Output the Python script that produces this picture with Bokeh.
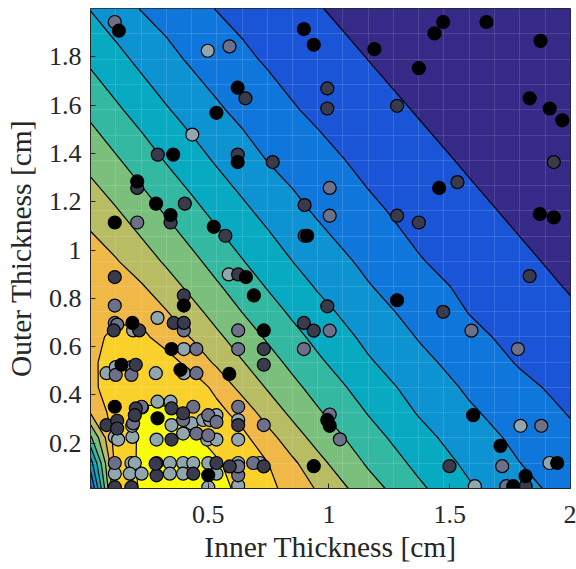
import numpy as np
from bokeh.plotting import figure
from bokeh.models import Range1d, FixedTicker
from bokeh.embed import file_html
from bokeh.resources import INLINE

# grid nodes of the fitted surface (cm)
grid_x = [0.0125, 0.117, 0.222, 0.326, 0.431, 0.535, 0.640, 0.744, 0.849, 0.953, 1.163, 1.372, 1.581, 1.790, 2.0]
grid_y = [0.0125, 0.117, 0.222, 0.326, 0.431, 0.535, 0.640, 0.744, 0.849, 0.953, 1.163, 1.372, 1.581, 1.790, 2.0]
# full sampling grid of the original surface (visible as faint seams)
seam_nodes = [0.0125, 0.117, 0.222, 0.326, 0.431, 0.535, 0.640, 0.744, 0.849, 0.953,
              1.058, 1.163, 1.267, 1.372, 1.476, 1.581, 1.686, 1.790, 1.895]
# surface value (in contour-level units), one row per grid_y value
surface = [
    [1.8, 9.3, 10.1, 10.3, 10.25, 10.2, 9.85, 9.27, 8.63, 7.9, 6.41, 5.18, 4.12, 3.28, 2.65],
    [3.5, 9.4, 10.15, 10.3, 10.2, 10.1, 9.60, 9.04, 8.2, 7.29, 5.87, 4.74, 3.78, 3.01, 2.45],
    [5.8, 9.55, 10.1, 10.2, 10.15, 9.69, 9.26, 8.40, 7.42, 6.68, 5.4, 4.33, 3.46, 2.77, 2.19],
    [8.05, 9.5, 10.2, 10.18, 9.71, 9.31, 8.63, 7.56, 6.80, 6.12, 4.95, 3.93, 3.14, 2.52, 1.94],
    [8.8, 9.45, 9.55, 9.5, 9.55, 8.75, 7.68, 6.93, 6.25, 5.64, 4.53, 3.60, 2.85, 2.23, 1.71],
    [8.85, 9.35, 9.4, 9.35, 8.71, 7.82, 7.06, 6.39, 5.76, 5.17, 4.11, 3.27, 2.55, 1.92, 1.49],
    [8.85, 9.12, 9.2, 8.63, 7.94, 7.19, 6.51, 5.88, 5.29, 4.74, 3.75, 2.94, 2.23, 1.72, 1.30],
    [8.85, 8.88, 8.74, 8.05, 7.32, 6.64, 5.99, 5.41, 4.84, 4.32, 3.41, 2.64, 1.97, 1.54, 1.12],
    [8.8, 8.8, 8.1, 7.42, 6.75, 6.12, 5.52, 4.94, 4.42, 3.91, 3.06, 2.35, 1.79, 1.36, 0.93],
    [8.6, 8.08, 7.47, 6.87, 6.25, 5.64, 5.05, 4.52, 4.0, 3.57, 2.76, 2.06, 1.61, 1.18, 0.75],
    [7.59, 7.08, 6.48, 5.88, 5.28, 4.72, 4.20, 3.72, 3.28, 2.87, 2.18, 1.68, 1.24, 0.81, 0.39],
    [6.71, 6.12, 5.52, 4.93, 4.40, 3.89, 3.43, 2.98, 2.64, 2.30, 1.75, 1.31, 0.87, 0.45, 0.03],
    [5.76, 5.16, 4.61, 4.08, 3.60, 3.13, 2.75, 2.41, 2.07, 1.82, 1.37, 0.93, 0.51, 0.09, -0.33],
    [4.82, 4.29, 3.77, 3.29, 2.86, 2.52, 2.18, 1.90, 1.67, 1.44, 0.99, 0.57, 0.15, -0.26, -0.68],
    [3.96, 3.46, 2.96, 2.63, 2.29, 1.97, 1.74, 1.51, 1.28, 1.05, 0.63, 0.21, -0.21, -0.63, -1.05],
]
fill_levels = [-2, 1, 2, 3, 4, 5, 6, 7, 8, 9, 10, 11]
line_levels = [1, 2, 3, 4, 5, 6, 7, 8, 9, 10]
band_colors = ["#352a87", "#1b55d7", "#0f77db", "#0d93d2", "#07aac1", "#33b8a1",
               "#7abf7c", "#b8bd63", "#efb847", "#fad12b", "#f9fb0e"]

# sample points by group
black_x = [0.130, 0.622, 0.534, 0.355, 0.622, 0.206, 0.284, 0.344, 0.113, 0.523,
           0.896, 0.937, 1.188, 1.372, 1.437, 1.473, 1.652, 1.876, 1.831, 1.914, 1.966, 1.456, 0.910, 1.873, 1.931,
           1.282, 0.993, 1.003, 0.937, 1.597, 1.710, 1.945, 1.814, 1.763,
           0.656, 0.399, 0.689, 0.186, 0.730, 0.348, 0.141, 0.385, 0.587,
           0.113, 0.290, 0.500]
black_y = [1.908, 1.672, 1.568, 1.395, 1.364, 1.284, 1.192, 1.145, 1.114, 1.096,
           1.915, 1.850, 1.832, 1.753, 1.897, 1.944, 1.944, 1.866, 1.628, 1.586, 1.537, 1.257, 1.059, 1.149, 1.135,
           0.792, 0.296, 0.272, 0.105, 0.316, 0.189, 0.118, 0.064, 0.022,
           0.888, 0.770, 0.812, 0.698, 0.667, 0.590, 0.525, 0.504, 0.487,
           0.351, 0.303, 0.067]
dark_x = [0.654, 0.291, 0.622, 0.767, 0.206, 0.403, 0.344, 0.571,
          0.993, 0.993, 1.282, 1.931, 1.532, 0.899, 0.899, 1.282, 1.372, 1.831,
          0.993, 0.896, 0.937, 1.473, 1.499, 1.814,
          0.113, 0.624, 0.399, 0.109, 0.214, 0.357, 0.399, 0.730, 0.730, 0.200,
          0.079, 0.123, 0.123, 0.200, 0.196, 0.348, 0.348, 0.396, 0.624,
          0.113, 0.182, 0.286, 0.282, 0.534, 0.589, 0.730, 0.438]
dark_y = [1.628, 1.395, 1.395, 1.364, 1.257, 1.192, 1.114, 1.059,
          1.669, 1.586, 1.597, 1.364, 1.281, 1.186, 1.059, 1.142, 1.114, 0.892,
          0.767, 0.698, 0.666, 0.744, 0.105, 0.022,
          0.888, 0.899, 0.812, 0.667, 0.667, 0.698, 0.698, 0.590, 0.525, 0.525,
          0.275, 0.293, 0.261, 0.344, 0.316, 0.344, 0.215, 0.324, 0.275,
          0.018, 0.018, 0.067, 0.115, 0.118, 0.104, 0.104, 0.074]
medium_x = [0.113, 0.588, 0.206, 1.003, 1.003, 1.003, 0.896, 1.590, 1.782, 1.003, 1.045, 1.879, 1.717, 1.734,
            0.113, 0.113, 0.123, 0.399, 0.624, 0.451, 0.624, 0.451, 0.117, 0.182,
            0.224, 0.189, 0.438, 0.396, 0.500, 0.534, 0.451, 0.500, 0.624, 0.730,
            0.113, 0.286, 0.686, 0.624, 0.624]
medium_y = [1.944, 1.843, 1.114, 1.257, 1.142, 0.666, 0.590, 0.666, 0.590, 0.319, 0.216, 0.272, 0.105, 0.022,
            0.770, 0.698, 0.691, 0.667, 0.667, 0.590, 0.590, 0.490, 0.483, 0.483,
            0.351, 0.282, 0.351, 0.296, 0.316, 0.288, 0.240, 0.233, 0.351, 0.275,
            0.118, 0.118, 0.118, 0.067, 0.104]
light_x = [0.498, 0.434, 0.585, 1.793, 1.913, 1.604,
           0.290, 0.189, 0.399, 0.079, 0.117, 0.182, 0.283, 0.399,
           0.290, 0.344, 0.226, 0.348, 0.113, 0.127, 0.186, 0.185, 0.286, 0.431, 0.479, 0.507, 0.534,
           0.396, 0.496, 0.534, 0.624, 0.624,
           0.113, 0.182, 0.196, 0.175, 0.224, 0.341, 0.341, 0.396, 0.438, 0.500, 0.624, 0.713,
           0.396, 0.534, 0.500, 0.624]
light_y = [1.825, 1.478, 0.899, 0.272, 0.118, 0.022,
           0.719, 0.667, 0.590, 0.490, 0.515, 0.515, 0.490, 0.490,
           0.372, 0.372, 0.348, 0.275, 0.226, 0.215, 0.226, 0.272, 0.215, 0.282, 0.296, 0.296, 0.316,
           0.240, 0.215, 0.215, 0.296, 0.215,
           0.074, 0.118, 0.118, 0.074, 0.074, 0.118, 0.074, 0.118, 0.118, 0.118, 0.118, 0.118,
           0.074, 0.074, 0.018, 0.025]

x_ticks = [0.5, 1.0, 1.5, 2.0]
x_tick_labels = ["0.5", "1", "1.5", "2"]
y_ticks = [0.2, 0.4, 0.6, 0.8, 1.0, 1.2, 1.4, 1.6, 1.8]
y_tick_labels = ["0.2", "0.4", "0.6", "0.8", "1", "1.2", "1.4", "1.6", "1.8"]

FONT = "Liberation Serif"
TXT = "#262626"

p = figure(width=576, height=569, output_backend="svg", toolbar_location=None,
           x_range=Range1d(0.0125, 2.0), y_range=Range1d(0.0125, 2.0),
           min_border_left=90, min_border_right=6, min_border_top=8, min_border_bottom=81)
p.outline_line_color = TXT
p.outline_line_width = 1

zz = np.array(surface)
fill_r = p.contour(np.array(grid_x), np.array(grid_y), zz, fill_levels,
                   fill_color=band_colors, line_color=None)
fill_r.level = "underlay"
p.contour(np.array(grid_x), np.array(grid_y), zz, line_levels,
          line_color="black", line_width=1.2)

# faint seams of the sampling grid, over the filled surface
for g in (p.xgrid[0], p.ygrid[0]):
    g.ticker = FixedTicker(ticks=seam_nodes)
    g.grid_line_color = "white"
    g.grid_line_alpha = 0.13
    g.grid_line_width = 1

groups = [(light_x, light_y, "#92a6ad"), (medium_x, medium_y, "#6c7088"),
          (dark_x, dark_y, "#393a4c"), (black_x, black_y, "#000000")]
for gx, gy, col in groups:
    p.scatter(gx, gy, size=13, fill_color=col, line_color="black", line_width=1.2)

p.xaxis.ticker = FixedTicker(ticks=x_ticks)
p.xaxis.major_label_overrides = {t: l for t, l in zip(x_ticks, x_tick_labels)}
p.yaxis.ticker = FixedTicker(ticks=y_ticks)
p.yaxis.major_label_overrides = {t: l for t, l in zip(y_ticks, y_tick_labels)}
p.xaxis.axis_label = "Inner Thickness [cm]"
p.yaxis.axis_label = "Outer Thickness [cm]"
for ax in (p.xaxis[0], p.yaxis[0]):
    ax.major_label_text_font = FONT
    ax.major_label_text_font_size = "26px"
    ax.major_label_text_color = TXT
    ax.axis_label_text_font = FONT
    ax.axis_label_text_font_size = "29.5px"
    ax.axis_label_text_font_style = "normal"
    ax.axis_label_text_color = TXT
    ax.axis_line_color = TXT
    ax.major_tick_line_color = TXT
    ax.major_tick_in = 5
    ax.major_tick_out = 0
    ax.minor_tick_line_color = None
p.xaxis.major_label_standoff = 17
p.yaxis.major_label_standoff = 9
p.xaxis.axis_label_standoff = 5
p.yaxis.axis_label_standoff = 9

open("out.html", "w").write(file_html(p, INLINE))
